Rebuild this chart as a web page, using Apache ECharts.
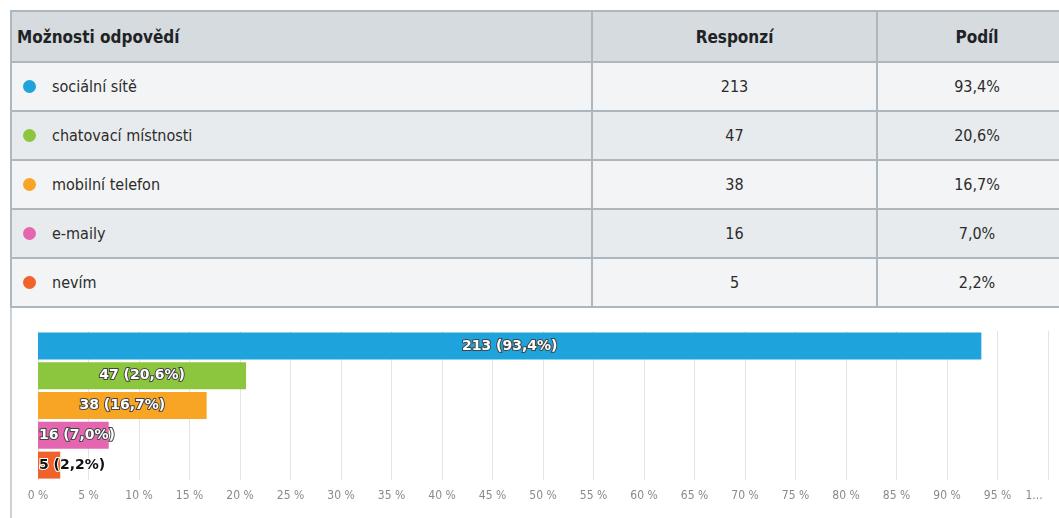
<!DOCTYPE html>
<html>
<head>
<meta charset="utf-8">
<script src="https://cdn.jsdelivr.net/npm/echarts@6/dist/echarts.min.js"></script>
<style>
  body { margin: 0; width: 1059px; height: 518px; overflow: hidden; position: relative; background: #fff;
         font-family: 'DejaVu Sans Condensed', 'Liberation Sans Narrow', sans-serif; }
  #tbl { position: absolute; left: 10px; top: 10px; width: 1080px;
         border-top: 2px solid #aeb7bd; border-left: 2px solid #aeb7bd; }
  .row { display: flex; height: 49px; box-sizing: border-box; border-bottom: 2px solid #aeb7bd; align-items: stretch; }
  .row.head { height: 51px; background: #d5dbdf; font-weight: bold; }
  .row.odd { background: #f3f4f5; }
  .row.even { background: #e8ebed; }
  .cell { box-sizing: border-box; display: flex; align-items: center; color: #2b2b2b; font-size: 16px; }
  .head .cell { color: #1f2326; font-size: 17px; }
  .c1 { width: 581px; border-right: 2px solid #aeb7bd; padding-left: 6px; }
  .c2 { width: 285px; border-right: 2px solid #aeb7bd; justify-content: center; }
  .c3 { width: 198px; justify-content: center; }
  .dot { width: 13px; height: 13px; border-radius: 50%; margin: 0 16px 0 5px; }
  .head .c1 { padding-left: 5px; }
  #edge { position: absolute; left: 10px; top: 308px; width: 2px; height: 210px; background: #cbd2d6; }
  #chart { position: absolute; left: 12px; top: 308px; width: 1047px; height: 210px; }
</style>
</head>
<body>
<div id="tbl"></div>
<div id="edge"></div>
<div id="chart"></div>
<script>
// data
const categories = ['sociální sítě', 'chatovací místnosti', 'mobilní telefon', 'e-maily', 'nevím']
const counts = [213, 47, 38, 16, 5]
const shares = [93.4, 20.6, 16.7, 7.0, 2.2]
const tickLabels = ['0 %', '5 %', '10 %', '15 %', '20 %', '25 %', '30 %', '35 %', '40 %', '45 %', '50 %',
  '55 %', '60 %', '65 %', '70 %', '75 %', '80 %', '85 %', '90 %', '95 %', '1...']
const headers = ['Možnosti odpovědí', 'Responzí', 'Podíl']

const colors = ['#1fa3dc', '#8cc63e', '#f8a526', '#e466b0', '#f0622a']
const fmtShare = v => v.toFixed(1).replace('.', ',') + '%'

// table
const tbl = document.getElementById('tbl')
let html = '<div class="row head"><div class="cell c1">' + headers[0] + '</div><div class="cell c2">' +
  headers[1] + '</div><div class="cell c3">' + headers[2] + '</div></div>'
categories.forEach((c, i) => {
  html += '<div class="row ' + (i % 2 ? 'even' : 'odd') + '"><div class="cell c1"><span class="dot" style="background:' +
    colors[i] + '"></span>' + c + '</div><div class="cell c2">' + counts[i] + '</div><div class="cell c3">' +
    fmtShare(shares[i]) + '</div></div>'
})
tbl.innerHTML = html

// chart
const chart = echarts.init(document.getElementById('chart'))
const option = {
  animation: false,
  grid: { left: 26, right: 11, top: 23, bottom: 38 },
  xAxis: {
    type: 'value',
    min: 0,
    max: 100,
    interval: 5,
    axisLine: { show: false },
    axisTick: { show: false },
    splitLine: { lineStyle: { color: '#e3e3e3' } },
    axisLabel: {
      color: '#8a8a8a',
      fontFamily: 'DejaVu Sans Condensed',
      fontSize: 12,
      margin: 10,
      formatter: v => {
        const t = tickLabels[Math.round(v / 5)]
        return v === 100 ? '{last|' + t + '}' : t
      },
      rich: { last: { color: '#8a8a8a', fontFamily: 'DejaVu Sans Condensed', fontSize: 12, padding: [0, 28, 0, 0] } }
    }
  },
  yAxis: {
    type: 'category',
    inverse: true,
    data: categories,
    axisLine: { show: false },
    axisTick: { show: false },
    axisLabel: { show: false }
  },
  series: [{
    type: 'bar',
    barWidth: 27,
    data: shares.map((v, i) => {
      const small = v < 10
      return {
        value: v,
        itemStyle: { color: colors[i] },
        label: {
          position: small ? 'insideLeft' : 'inside',
          distance: 1,
          color: i === 4 ? '#111' : '#fff',
          textBorderColor: i === 4 ? '#fff' : '#444',
          textBorderWidth: 2
        }
      }
    }),
    label: {
      show: true,
      fontFamily: 'DejaVu Sans',
      fontWeight: 'bold',
      fontSize: 14,
      formatter: p => counts[p.dataIndex] + ' (' + fmtShare(shares[p.dataIndex]) + ')'
    }
  }]
}
chart.setOption(option)
</script>
</body>
</html>
